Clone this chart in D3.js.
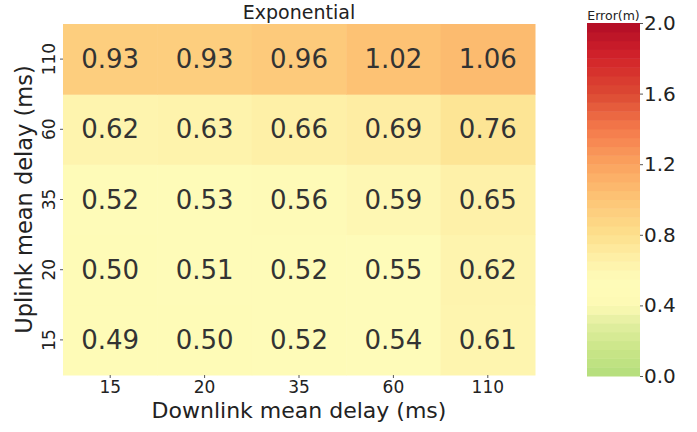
<!DOCTYPE html>
<html>
<head>
<meta charset="utf-8">
<script src="https://cdn.jsdelivr.net/npm/d3@7"></script>
<style>
  body { margin: 0; background: #fff; }
  text { font-family: "DejaVu Sans", sans-serif; }
</style>
</head>
<body>
<div id="chart"></div>
<script>
// data
const downlink = ["15", "20", "35", "60", "110"];
const uplink = ["15", "20", "35", "60", "110"];
const errors = [
  [0.49, 0.50, 0.52, 0.54, 0.61], // uplink 15
  [0.50, 0.51, 0.52, 0.55, 0.62], // uplink 20
  [0.52, 0.53, 0.56, 0.59, 0.65], // uplink 35
  [0.62, 0.63, 0.66, 0.69, 0.76], // uplink 60
  [0.93, 0.93, 0.96, 1.02, 1.06]  // uplink 110
];
const cbTicks = [0.0, 0.4, 0.8, 1.2, 1.6, 2.0];

// colour stops
const stopVals = [0.0, 0.15, 0.3, 0.4, 0.55, 0.7, 0.8, 1.0, 1.2, 1.4, 1.6, 1.8, 2.0];
const stopCols = ["#b3de7c", "#cae588", "#e2eea0", "#fdfab4", "#fefbb9", "#feeca1", "#fde08d",
                  "#fdc576", "#fba35f", "#f47a4b", "#dc4a33", "#d3242a", "#b20d27"];

const width = 697, height = 432;
const hm = { left: 63, top: 24, width: 472, height: 351 };

const svg = d3.select("#chart").append("svg").attr("width", width).attr("height", height);

const color = d3.scaleLinear().domain(stopVals).range(stopCols).clamp(true);

const x = d3.scaleBand().domain(downlink).range([0, hm.width]);
const y = d3.scaleBand().domain(uplink).range([hm.height, 0]);

const g = svg.append("g").attr("transform", `translate(${hm.left}, ${hm.top})`);

const cells = [];
errors.forEach((row, i) => row.forEach((v, j) => cells.push({ up: uplink[i], down: downlink[j], v })));

g.selectAll(".cell")
  .data(cells)
  .enter()
  .append("rect")
  .attr("x", d => x(d.down))
  .attr("y", d => y(d.up))
  .attr("width", x.bandwidth() + 0.5)
  .attr("height", y.bandwidth() + 0.5)
  .attr("fill", d => color(d.v));

g.selectAll(".val")
  .data(cells)
  .enter()
  .append("text")
  .attr("x", d => x(d.down) + x.bandwidth() / 2)
  .attr("y", d => y(d.up) + y.bandwidth() / 2)
  .attr("text-anchor", "middle")
  .attr("dominant-baseline", "central")
  .attr("font-size", "26px")
  .attr("fill", "#333")
  .text(d => d.v.toFixed(2));

// axes
const xAxis = g.append("g")
  .attr("transform", `translate(0, ${hm.height})`)
  .call(d3.axisBottom(x).tickSize(3).tickPadding(3));
xAxis.select(".domain").remove();
xAxis.selectAll("line").attr("stroke", "#555");
xAxis.selectAll("text").attr("font-size", "17px").attr("fill", "#222").attr("font-family", "DejaVu Sans");

const yAxis = g.append("g").call(d3.axisLeft(y).tickSize(3).tickPadding(3));
yAxis.select(".domain").remove();
yAxis.selectAll("line").attr("stroke", "#555");
yAxis.selectAll("text")
  .attr("font-size", "17px").attr("fill", "#222").attr("font-family", "DejaVu Sans")
  .attr("text-anchor", "middle")
  .attr("dy", null)
  .attr("x", null)
  .attr("transform", "translate(-14,0) rotate(-90)")
  .attr("dominant-baseline", "central");

svg.append("text")
  .attr("x", hm.left + hm.width / 2)
  .attr("y", 418)
  .attr("text-anchor", "middle")
  .attr("font-size", "22px")
  .attr("fill", "#222")
  .text("Downlink mean delay (ms)");

svg.append("text")
  .attr("transform", `translate(32, ${hm.top + hm.height / 2}) rotate(-90)`)
  .attr("text-anchor", "middle")
  .attr("font-size", "22.5px")
  .attr("fill", "#222")
  .text("Uplink mean delay (ms)");

svg.append("text")
  .attr("x", hm.left + hm.width / 2)
  .attr("y", 19)
  .attr("text-anchor", "middle")
  .attr("font-size", "19px")
  .attr("fill", "#222")
  .text("Exponential");

// colour bar
const cb = { left: 587, top: 23, width: 53, height: 353 };
const cy = d3.scaleLinear().domain([0, 2]).range([cb.top + cb.height, cb.top]);
const bands = d3.range(0, 2, 0.05);
svg.append("g").selectAll("rect")
  .data(bands)
  .enter()
  .append("rect")
  .attr("x", cb.left)
  .attr("y", d => cy(d + 0.05))
  .attr("width", cb.width)
  .attr("height", d => cy(d) - cy(d + 0.05) + 0.5)
  .attr("fill", d => color(d + 0.025));

const cAxis = svg.append("g")
  .attr("transform", `translate(${cb.left + cb.width}, 0)`)
  .call(d3.axisRight(cy).tickValues(cbTicks).tickFormat(d3.format(".1f")).tickSize(3).tickPadding(1));
cAxis.select(".domain").remove();
cAxis.selectAll("line").attr("stroke", "#555");
cAxis.selectAll("text").attr("font-size", "20px").attr("fill", "#222").attr("font-family", "DejaVu Sans");

svg.append("text")
  .attr("x", cb.left + cb.width / 2)
  .attr("y", 20)
  .attr("text-anchor", "middle")
  .attr("font-size", "12.5px")
  .attr("fill", "#222")
  .text("Error(m)");
</script>
</body>
</html>
